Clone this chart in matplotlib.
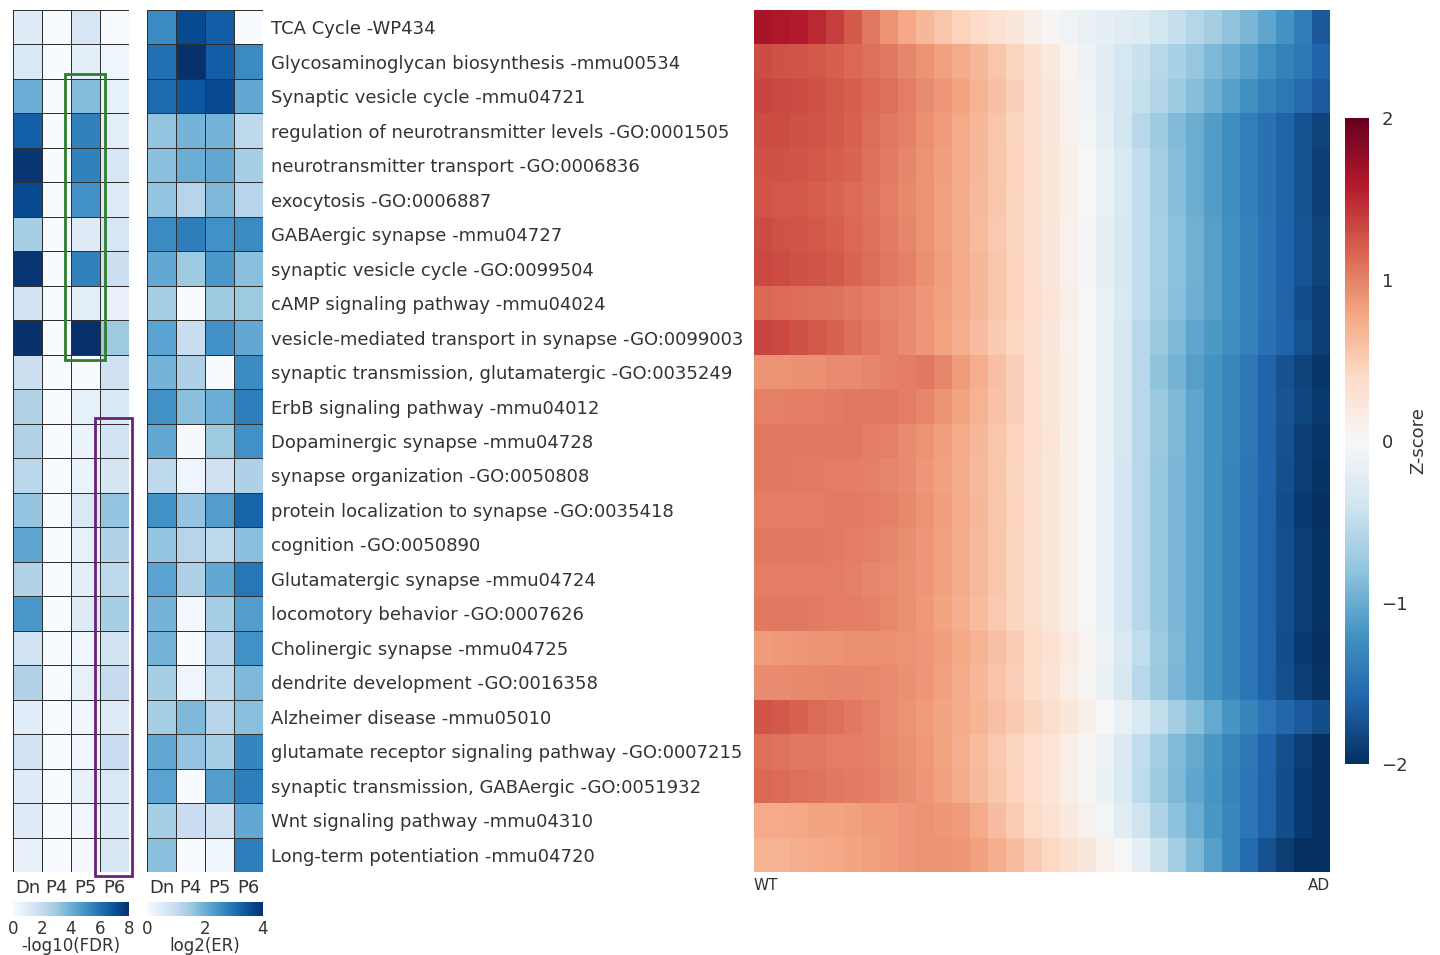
import numpy as np
import matplotlib
matplotlib.use("Agg")
import matplotlib.pyplot as plt
from matplotlib.patches import Rectangle

plt.rcParams['font.family'] = ['DejaVu Sans']
TXT = '#333333'

pathways = [
    "TCA Cycle -WP434",
    "Glycosaminoglycan biosynthesis -mmu00534",
    "Synaptic vesicle cycle -mmu04721",
    "regulation of neurotransmitter levels -GO:0001505",
    "neurotransmitter transport -GO:0006836",
    "exocytosis -GO:0006887",
    "GABAergic synapse -mmu04727",
    "synaptic vesicle cycle -GO:0099504",
    "cAMP signaling pathway -mmu04024",
    "vesicle-mediated transport in synapse -GO:0099003",
    "synaptic transmission, glutamatergic -GO:0035249",
    "ErbB signaling pathway -mmu04012",
    "Dopaminergic synapse -mmu04728",
    "synapse organization -GO:0050808",
    "protein localization to synapse -GO:0035418",
    "cognition -GO:0050890",
    "Glutamatergic synapse -mmu04724",
    "locomotory behavior -GO:0007626",
    "Cholinergic synapse -mmu04725",
    "dendrite development -GO:0016358",
    "Alzheimer disease -mmu05010",
    "glutamate receptor signaling pathway -GO:0007215",
    "synaptic transmission, GABAergic -GO:0051932",
    "Wnt signaling pathway -mmu04310",
    "Long-term potentiation -mmu04720",
]
groups = ["Dn", "P4", "P5", "P6"]

# -log10(FDR): columns Dn, P4, P5, P6
fdr_dn = [1.0, 1.2, 4.0, 6.5, 7.8, 7.2, 2.8, 7.8, 1.5, 8.0, 1.7, 2.5, 2.5, 2.3, 3.2,
          4.3, 2.5, 4.8, 1.5, 2.5, 0.9, 1.5, 1.0, 1.0, 0.6]
fdr_p4 = [0.0] * 25
fdr_p5 = [1.3, 0.8, 3.5, 5.5, 5.5, 5.0, 1.0, 5.5, 0.8, 8.0, 0.0, 0.7, 0.5, 0.5, 1.2,
          0.7, 0.8, 1.0, 0.3, 0.7, 0.3, 0.3, 0.6, 0.3, 0.1]
fdr_p6 = [0.0, 0.4, 0.7, 0.8, 1.3, 1.0, 1.3, 1.7, 0.6, 3.0, 1.6, 1.2, 1.5, 1.4, 3.2,
          2.5, 2.2, 2.8, 1.5, 2.0, 1.0, 1.8, 1.2, 1.1, 1.3]

# log2(ER): columns Dn, P4, P5, P6
er_dn = [2.6, 3.0, 3.1, 1.6, 1.7, 1.6, 2.6, 2.1, 1.4, 2.2, 1.9, 2.5, 2.1, 1.1, 2.5,
         1.6, 2.2, 1.9, 1.9, 1.4, 1.4, 2.1, 2.2, 1.4, 1.7]
er_p4 = [3.6, 4.0, 3.4, 1.9, 2.0, 1.2, 2.8, 1.5, 0.0, 0.9, 1.3, 1.7, 0.05, 0.2, 1.6,
         1.2, 1.3, 0.1, 0.0, 0.2, 1.8, 1.6, 0.0, 0.9, 0.0]
er_p5 = [3.3, 3.3, 3.6, 1.9, 2.1, 1.8, 2.5, 2.4, 1.5, 2.5, 0.0, 2.0, 1.5, 0.8, 2.3,
         1.1, 2.1, 1.4, 1.2, 1.1, 1.2, 1.4, 2.3, 0.8, 0.2]
er_p6 = [0.0, 2.6, 2.1, 1.1, 1.4, 1.2, 2.6, 1.7, 1.5, 2.1, 2.6, 2.8, 2.5, 1.3, 3.2,
         1.7, 2.9, 2.3, 2.5, 1.8, 1.7, 2.7, 2.8, 2.1, 2.8]

# Z-scores, samples ordered from WT (left) to AD (right)
z_rows = [
    [1.65,1.62,1.58,1.5,1.38,1.22,1.05,0.9,0.78,0.66,0.55,0.46,0.38,0.3,0.22,0.12,0.02,-0.08,-0.14,-0.18,-0.22,-0.28,-0.38,-0.48,-0.58,-0.68,-0.8,-0.92,-1.05,-1.2,-1.4,-1.7],
    [1.3,1.28,1.26,1.24,1.2,1.15,1.1,1.05,0.98,0.9,0.82,0.74,0.66,0.55,0.45,0.32,0.2,0.05,-0.1,-0.22,-0.35,-0.45,-0.55,-0.65,-0.78,-0.9,-1.0,-1.1,-1.22,-1.35,-1.45,-1.6],
    [1.35,1.32,1.3,1.27,1.24,1.2,1.15,1.1,1.02,0.95,0.88,0.8,0.7,0.6,0.48,0.35,0.22,0.08,-0.08,-0.22,-0.36,-0.48,-0.6,-0.72,-0.85,-0.98,-1.1,-1.22,-1.35,-1.45,-1.55,-1.68],
    [1.3,1.3,1.28,1.25,1.22,1.18,1.12,1.06,1.0,0.92,0.85,0.76,0.66,0.56,0.45,0.34,0.22,0.1,-0.05,-0.2,-0.38,-0.55,-0.72,-0.88,-1.0,-1.12,-1.25,-1.38,-1.5,-1.62,-1.75,-1.85],
    [1.28,1.27,1.25,1.23,1.2,1.16,1.1,1.04,0.98,0.9,0.83,0.75,0.66,0.56,0.46,0.35,0.24,0.12,0.0,-0.15,-0.32,-0.5,-0.68,-0.85,-1.0,-1.12,-1.25,-1.38,-1.5,-1.62,-1.75,-1.88],
    [1.25,1.24,1.22,1.2,1.17,1.13,1.08,1.02,0.96,0.9,0.82,0.74,0.65,0.55,0.45,0.35,0.24,0.12,0.0,-0.15,-0.32,-0.5,-0.68,-0.85,-1.0,-1.12,-1.25,-1.38,-1.5,-1.62,-1.75,-1.88],
    [1.3,1.28,1.26,1.23,1.2,1.15,1.1,1.04,0.98,0.9,0.82,0.74,0.64,0.54,0.44,0.33,0.22,0.1,-0.04,-0.18,-0.34,-0.5,-0.66,-0.82,-0.96,-1.1,-1.22,-1.35,-1.48,-1.6,-1.72,-1.85],
    [1.32,1.3,1.28,1.25,1.22,1.17,1.12,1.06,1.0,0.92,0.84,0.75,0.66,0.56,0.46,0.35,0.23,0.1,-0.04,-0.18,-0.34,-0.5,-0.66,-0.82,-0.96,-1.1,-1.22,-1.35,-1.48,-1.6,-1.72,-1.85],
    [1.15,1.14,1.12,1.1,1.08,1.05,1.02,0.98,0.94,0.88,0.82,0.74,0.66,0.56,0.46,0.36,0.25,0.13,0.0,-0.15,-0.32,-0.5,-0.68,-0.84,-0.98,-1.1,-1.22,-1.35,-1.48,-1.62,-1.78,-1.9],
    [1.35,1.32,1.28,1.24,1.18,1.12,1.06,1.0,0.94,0.88,0.8,0.72,0.62,0.52,0.43,0.34,0.22,0.1,0.0,-0.15,-0.35,-0.55,-0.75,-0.9,-1.05,-1.15,-1.25,-1.35,-1.5,-1.6,-1.75,-1.9],
    [0.9,0.9,0.92,0.92,0.95,0.95,0.98,1.0,1.02,1.05,0.98,0.85,0.72,0.6,0.48,0.36,0.24,0.12,0.0,-0.15,-0.35,-0.55,-0.8,-0.95,-1.1,-1.2,-1.3,-1.45,-1.6,-1.75,-1.85,-1.95],
    [1.0,1.0,1.02,1.02,1.04,1.05,1.05,1.05,1.02,0.98,0.9,0.8,0.7,0.58,0.47,0.36,0.24,0.12,0.0,-0.15,-0.35,-0.55,-0.75,-0.9,-1.05,-1.2,-1.3,-1.45,-1.6,-1.72,-1.82,-1.92],
    [1.05,1.05,1.05,1.05,1.05,1.05,1.02,1.0,0.95,0.9,0.84,0.76,0.66,0.56,0.46,0.36,0.25,0.12,0.0,-0.15,-0.35,-0.55,-0.75,-0.9,-1.05,-1.2,-1.3,-1.45,-1.6,-1.75,-1.88,-1.95],
    [1.05,1.05,1.04,1.04,1.03,1.02,1.0,0.98,0.94,0.88,0.82,0.74,0.65,0.55,0.45,0.35,0.24,0.12,0.0,-0.16,-0.36,-0.56,-0.76,-0.92,-1.06,-1.2,-1.32,-1.46,-1.6,-1.76,-1.9,-1.98],
    [1.02,1.02,1.03,1.03,1.04,1.04,1.02,1.0,0.96,0.9,0.84,0.76,0.66,0.56,0.46,0.35,0.24,0.12,0.0,-0.16,-0.36,-0.56,-0.76,-0.92,-1.06,-1.2,-1.32,-1.46,-1.62,-1.78,-1.92,-2.0],
    [1.05,1.05,1.05,1.05,1.04,1.03,1.0,0.97,0.93,0.88,0.82,0.74,0.65,0.55,0.45,0.35,0.24,0.12,0.0,-0.16,-0.36,-0.56,-0.76,-0.92,-1.06,-1.2,-1.32,-1.46,-1.62,-1.76,-1.9,-1.98],
    [1.02,1.02,1.02,1.02,1.02,1.0,0.98,0.95,0.92,0.88,0.82,0.74,0.65,0.55,0.45,0.35,0.24,0.12,0.0,-0.16,-0.36,-0.56,-0.76,-0.92,-1.06,-1.2,-1.32,-1.46,-1.62,-1.76,-1.9,-1.98],
    [1.05,1.05,1.05,1.04,1.03,1.02,1.0,0.96,0.92,0.87,0.8,0.72,0.63,0.54,0.45,0.35,0.24,0.12,0.0,-0.16,-0.36,-0.56,-0.76,-0.92,-1.06,-1.2,-1.32,-1.46,-1.62,-1.76,-1.9,-1.98],
    [0.85,0.86,0.88,0.9,0.9,0.92,0.92,0.92,0.9,0.88,0.84,0.78,0.7,0.6,0.5,0.4,0.3,0.18,0.05,-0.1,-0.3,-0.5,-0.72,-0.9,-1.05,-1.2,-1.32,-1.46,-1.62,-1.78,-1.92,-2.0],
    [0.95,0.95,0.96,0.96,0.97,0.97,0.96,0.95,0.92,0.88,0.82,0.75,0.66,0.57,0.48,0.38,0.27,0.15,0.02,-0.14,-0.34,-0.55,-0.75,-0.92,-1.06,-1.2,-1.32,-1.46,-1.62,-1.76,-1.9,-1.98],
    [1.25,1.22,1.18,1.14,1.1,1.05,1.0,0.95,0.9,0.85,0.8,0.74,0.68,0.6,0.52,0.44,0.35,0.24,0.12,0.0,-0.15,-0.32,-0.5,-0.68,-0.85,-1.02,-1.18,-1.32,-1.46,-1.58,-1.68,-1.78],
    [1.1,1.08,1.06,1.05,1.03,1.02,1.0,0.96,0.92,0.86,0.8,0.72,0.63,0.54,0.45,0.36,0.26,0.15,0.03,-0.12,-0.3,-0.5,-0.7,-0.88,-1.02,-1.16,-1.3,-1.44,-1.6,-1.76,-1.9,-2.0],
    [1.15,1.13,1.1,1.08,1.06,1.04,1.02,0.98,0.93,0.88,0.82,0.74,0.65,0.56,0.46,0.36,0.25,0.14,0.02,-0.13,-0.32,-0.52,-0.72,-0.9,-1.05,-1.18,-1.32,-1.46,-1.62,-1.78,-1.92,-2.0],
    [0.75,0.75,0.78,0.8,0.8,0.82,0.85,0.85,0.88,0.9,0.88,0.85,0.75,0.62,0.5,0.4,0.3,0.2,0.08,-0.06,-0.22,-0.42,-0.62,-0.82,-1.0,-1.16,-1.3,-1.46,-1.62,-1.78,-1.92,-2.0],
    [0.7,0.7,0.72,0.75,0.78,0.8,0.82,0.85,0.88,0.9,0.9,0.88,0.82,0.72,0.62,0.5,0.42,0.32,0.22,0.1,0.0,-0.2,-0.45,-0.7,-0.9,-1.1,-1.3,-1.55,-1.75,-1.9,-2.0,-2.0],
]

W, H = 1440, 955
fig = plt.figure(figsize=(W / 100, H / 100), dpi=100)


def rect(x0, y0, x1, y1):
    return [x0 / W, 1 - y1 / H, (x1 - x0) / W, (y1 - y0) / H]


fdr = np.array([fdr_dn, fdr_p4, fdr_p5, fdr_p6]).T
er = np.array([er_dn, er_p4, er_p5, er_p6]).T
Z = np.array(z_rows)
nrow = len(pathways)

ax1 = fig.add_axes(rect(13, 10, 129, 872))
ax2 = fig.add_axes(rect(147, 10, 263, 872))
ax3 = fig.add_axes(rect(754, 10, 1330, 872))
cax = fig.add_axes(rect(1345, 118, 1369, 764))
cb1ax = fig.add_axes(rect(13, 902, 129, 916))
cb2ax = fig.add_axes(rect(147, 902, 263, 916))

m1 = ax1.pcolormesh(fdr, cmap='Blues', vmin=0, vmax=8, edgecolors='#303030', linewidth=0.7)
m2 = ax2.pcolormesh(er, cmap='Blues', vmin=0, vmax=4, edgecolors='#303030', linewidth=0.7)
m3 = ax3.pcolormesh(Z, cmap='RdBu_r', vmin=-2, vmax=2)

for ax in (ax1, ax2, ax3):
    ax.set_ylim(nrow, 0)
    for s in ax.spines.values():
        s.set_visible(False)

for ax in (ax1, ax2):
    ax.set_xlim(0, 4)
    ax.set_xticks(np.arange(4) + 0.5)
    ax.set_xticklabels(groups, fontsize=13, color=TXT)
    ax.tick_params(axis='x', length=0, pad=5)
    ax.set_yticks([])

ax2.yaxis.tick_right()
ax2.set_yticks(np.arange(nrow) + 0.5)
ax2.set_yticklabels(pathways, fontsize=13, color=TXT)
ax2.tick_params(axis='y', length=0, pad=6)

ax3.set_xticks([])
ax3.set_yticks([])
ax3.text(0, -0.007, "WT", transform=ax3.transAxes, ha='left', va='top', fontsize=11, color=TXT)
ax3.text(1, -0.007, "AD", transform=ax3.transAxes, ha='right', va='top', fontsize=11, color=TXT)

# highlight boxes
ax1.add_patch(Rectangle((2 - 0.2, 2 - 0.15), 1.37, 8.3, fill=False, edgecolor='#2e7d2e',
                        linewidth=2.0, clip_on=False, zorder=5))
ax1.add_patch(Rectangle((3 - 0.17, 12 - 0.17), 1.28, 13.3, fill=False, edgecolor='#6b1f7f',
                        linewidth=2.0, clip_on=False, zorder=5))

cb = fig.colorbar(m3, cax=cax, ticks=[-2, -1, 0, 1, 2])
cb.outline.set_visible(False)
cax.tick_params(length=0, pad=9, labelsize=13, colors=TXT)
cb.set_label('Z-score', fontsize=13, color=TXT, labelpad=1)

cb1 = fig.colorbar(m1, cax=cb1ax, orientation='horizontal', ticks=[0, 2, 4, 6, 8])
cb1.outline.set_visible(False)
cb1ax.tick_params(length=0, pad=3, labelsize=12, colors=TXT)
cb1.set_label('-log10(FDR)', fontsize=12, color=TXT, labelpad=-1)

cb2 = fig.colorbar(m2, cax=cb2ax, orientation='horizontal', ticks=[0, 2, 4])
cb2.outline.set_visible(False)
cb2ax.tick_params(length=0, pad=3, labelsize=12, colors=TXT)
cb2.set_label('log2(ER)', fontsize=12, color=TXT, labelpad=-1)

fig.savefig('out.png', dpi=100)
